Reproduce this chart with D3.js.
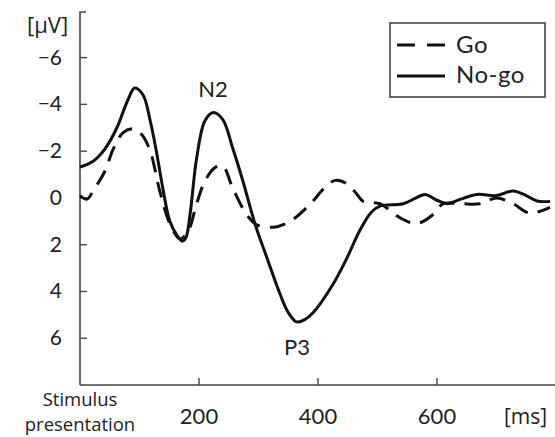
<!DOCTYPE html>
<html>
<head>
<meta charset="utf-8">
<script src="https://cdn.jsdelivr.net/npm/d3@7"></script>
<style>
  body { margin: 0; background: #fff; }
  svg text { font-family: Lato, "Open Sans", sans-serif; fill: #222; }
</style>
</head>
<body>
<div id="chart"></div>
<script>
// ERP waveforms (time in ms, amplitude in µV, negative up)
var goTime = [0, 12, 22, 42, 56, 73, 90, 104, 118, 134, 151, 168, 182, 196, 210, 227, 240, 257, 281, 297, 325, 353, 387, 410, 429, 449, 465, 476, 504, 538, 566, 594, 610, 640, 672, 700, 728, 756, 790];
var goVal  = [-0.1, 0.05, -0.3, -1.15, -2.1, -2.8, -2.95, -2.7, -2.0, -0.3, 1.1, 1.75, 1.4, 0.25, -0.72, -1.3, -1.36, -0.4, 0.75, 1.15, 1.25, 1.0, 0.26, -0.4, -0.75, -0.6, -0.17, 0.15, 0.25, 0.85, 1.1, 0.7, 0.25, 0.25, 0.25, 0.0, 0.25, 0.65, 0.4];

var nogoTime = [0, 22, 42, 62, 79, 92, 106, 118, 129, 140, 151, 163, 172, 178, 185, 196, 210, 224, 240, 257, 274, 294, 314, 336, 350, 364, 378, 392, 425, 449, 470, 490, 504, 543, 565, 580, 600, 617, 640, 667, 700, 728, 750, 768, 790];
var nogoVal  = [-1.32, -1.57, -2.1, -3.0, -4.1, -4.7, -4.4, -3.3, -1.9, -0.3, 1.0, 1.6, 1.85, 1.7, 0.7, -1.7, -3.3, -3.65, -3.35, -2.1, -0.7, 1.1, 2.55, 4.1, 4.9, 5.3, 5.2, 4.9, 3.7, 2.55, 1.4, 0.6, 0.35, 0.25, 0.0, -0.15, 0.1, 0.25, 0.05, -0.15, -0.1, -0.3, -0.1, 0.13, 0.15];

var yTicks = [-6, -4, -2, 0, 2, 4, 6];
var xTicks = [200, 400, 600];
var seriesNames = ["Go", "No-go"];
var onsetLines = ["Stimulus", "presentation"];

var width = 555, height = 437;

var svg = d3.select("#chart").append("svg")
    .attr("width", width)
    .attr("height", height);

var x = d3.scaleLinear().domain([0, 800]).range([80, 556]);
var y = d3.scaleLinear().domain([8, -7.95]).range([385, 12]);

// y axis (with little bracket at top)
svg.append("path")
    .attr("d", "M" + (x(0) + 6) + "," + y(-7.95) + "H" + x(0) + "V" + y(8))
    .attr("fill", "none").attr("stroke", "#444").attr("stroke-width", 1.6);
// x axis
svg.append("line")
    .attr("x1", x(0)).attr("x2", width)
    .attr("y1", y(8)).attr("y2", y(8))
    .attr("stroke", "#444").attr("stroke-width", 1.6);

svg.selectAll(".ytick").data(yTicks).enter().append("line")
    .attr("x1", x(0)).attr("x2", x(0) + 7)
    .attr("y1", function(d){ return y(d); }).attr("y2", function(d){ return y(d); })
    .attr("stroke", "#444").attr("stroke-width", 1.4);
svg.selectAll(".ylab").data(yTicks).enter().append("text")
    .attr("x", 62).attr("y", function(d){ return y(d) + 7; })
    .attr("text-anchor", "end").style("font-size", "21px")
    .text(function(d){ return d < 0 ? "\u2212" + Math.abs(d) : d; });

svg.selectAll(".xtick").data(xTicks).enter().append("line")
    .attr("x1", function(d){ return x(d); }).attr("x2", function(d){ return x(d); })
    .attr("y1", y(8)).attr("y2", y(8) - 7)
    .attr("stroke", "#444").attr("stroke-width", 1.4);
svg.selectAll(".xlab").data(xTicks).enter().append("text")
    .attr("x", function(d){ return x(d); }).attr("y", 424)
    .attr("text-anchor", "middle").style("font-size", "22px")
    .text(function(d){ return d; });

// unit labels
svg.append("text").attr("x", 27).attr("y", 33).style("font-size", "22px")
    .style("font-family", "'Open Sans', sans-serif").text("[\u00b5V]");
svg.append("text").attr("x", 504).attr("y", 424).style("font-size", "21px")
    .style("font-family", "'Open Sans', sans-serif").text("[ms]");
// stimulus onset label, wrapped onto two lines
var onset = svg.append("text").attr("text-anchor", "middle")
    .style("font-size", "18.5px").style("font-family", "'Open Sans', sans-serif");
onset.selectAll("tspan").data(onsetLines).enter().append("tspan")
    .attr("x", x(0))
    .attr("y", function(d, i){ return 406 + i * 25; })
    .text(function(d){ return d; });

// waveforms
var line = d3.line()
    .x(function(d){ return x(d[0]); })
    .y(function(d){ return y(d[1]); })
    .curve(d3.curveCatmullRom.alpha(0.5));

var goData = d3.zip(goTime, goVal);
var nogoData = d3.zip(nogoTime, nogoVal);

svg.append("path").datum(goData)
    .attr("d", line).attr("fill", "none")
    .attr("stroke", "#111").attr("stroke-width", 3)
    .attr("stroke-dasharray", "16,10");
svg.append("path").datum(nogoData)
    .attr("d", line).attr("fill", "none")
    .attr("stroke", "#111").attr("stroke-width", 3);

// component labels
svg.append("text").attr("x", 213).attr("y", 97).attr("text-anchor", "middle")
    .style("font-size", "22px").text("N2");
svg.append("text").attr("x", 297).attr("y", 355).attr("text-anchor", "middle")
    .style("font-size", "22px").text("P3");

// legend
var lg = svg.append("g");
lg.append("rect").attr("x", 390).attr("y", 23).attr("width", 155).attr("height", 74)
    .attr("fill", "#fff").attr("stroke", "#444").attr("stroke-width", 1.6);
lg.selectAll(".lgl").data(seriesNames).enter().append("line")
    .attr("x1", 397).attr("x2", 445)
    .attr("y1", function(d, i){ return 45 + i * 31; })
    .attr("y2", function(d, i){ return 45 + i * 31; })
    .attr("stroke", "#111").attr("stroke-width", 3)
    .attr("stroke-dasharray", function(d, i){ return i === 0 ? "18,12" : null; });
lg.selectAll(".lgt").data(seriesNames).enter().append("text")
    .attr("x", 456).attr("y", function(d, i){ return 53 + i * 30; })
    .style("font-size", "24px").style("letter-spacing", "0.5px")
    .text(function(d){ return d; });
</script>
</body>
</html>
